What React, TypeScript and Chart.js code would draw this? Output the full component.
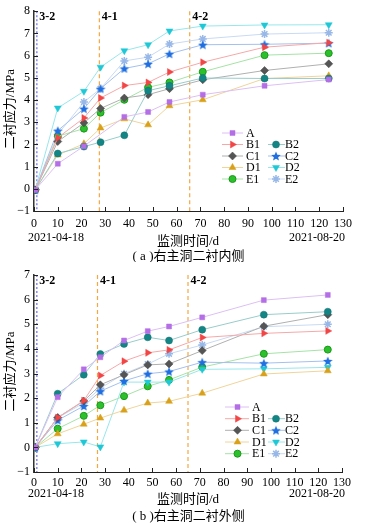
import React, { useEffect, useRef } from 'react';
import { Chart, registerables } from 'chart.js';
import { drawPoint } from 'chart.js/helpers';

Chart.register(...registerables);

// ---------- data ----------
const days = [0.5, 10, 21, 28, 38, 48, 57, 71, 97, 124];
const seriesLabels = ['A', 'B1', 'B2', 'C1', 'C2', 'D1', 'D2', 'E1', 'E2'];

// (a) inner side
const innerA = [-0.05, 1.13, 1.92, null, 3.24, 3.46, 3.91, 4.24, 4.64, 4.92];
const innerB1 = [-0.05, 2.3, 3.19, 4.09, 4.65, 4.79, 5.26, 5.7, 6.38, 6.58];
const innerB2 = [-0.05, 1.59, 1.9, 2.1, 2.41, 4.42, 4.64, 4.99, 4.97, 4.97];
const innerC1 = [-0.05, 2.13, 2.97, 3.62, 4.09, 4.24, 4.51, 4.91, 5.33, 5.63];
const innerC2 = [-0.05, 2.62, 3.61, 4.51, 5.42, 5.63, 6.08, 6.49, 6.51, 6.56];
const innerD1 = [-0.05, 1.52, 2.03, 2.74, 3.15, 2.88, 3.74, 4.01, 4.97, 5.09];
const innerD2 = [-0.05, 3.64, 4.39, 5.48, 6.22, 6.49, 7.11, 7.33, 7.38, 7.39];
const innerE1 = [-0.05, 2.37, 2.71, 3.43, 4.01, 4.57, 4.79, 5.27, 6.02, 6.11];
const innerE2 = [-0.05, 2.45, 3.91, 4.51, 5.76, 5.93, 6.52, 6.75, 6.97, 7.03];

// (b) outer side
const outerA = [0, 2.04, 3.17, 3.66, 4.34, 4.72, 4.91, 5.28, 5.98, 6.19];
const outerB1 = [0, 1.21, 1.9, 2.92, 3.5, 3.84, 3.96, 4.46, 4.63, 4.73];
const outerB2 = [0, 2.18, 2.95, 3.79, 4.2, 4.47, 4.34, 4.78, 5.39, 5.51];
const outerC1 = [0, 1.21, 1.88, 2.54, 2.95, 3.35, 3.39, 3.93, 4.92, 5.39];
const outerC2 = [0, 1.1, 1.68, 2.28, 2.7, 2.99, 3.08, 3.46, 3.42, 3.51];
const outerD1 = [0, 0.55, 0.94, 1.19, 1.51, 1.8, 1.87, 2.2, 2.98, 3.11];
const outerD2 = [0, 0.15, 0.22, 0.02, 2.65, 2.65, 2.65, 3.17, 3.19, 3.25];
const outerE1 = [0, 0.76, 1.28, 1.71, 2.08, 2.48, 2.74, 3.26, 3.8, 3.97];
const outerE2 = [0, 1.2, 1.8, 2.4, 2.99, 3.38, 3.8, 4.16, 4.9, 5.0];

const innerSeries = [innerA, innerB1, innerB2, innerC1, innerC2, innerD1, innerD2, innerE1, innerE2];
const outerSeries = [outerA, outerB1, outerB2, outerC1, outerC2, outerD1, outerD2, outerE1, outerE2];

// construction stages (day of the vertical marker lines)
const stageLabels = ['3-2', '4-1', '4-2'];
const innerStageDays = [1.2, 27.5, 65.5];
const outerStageDays = [1.2, 26.8, 65];

const startDate = '2021-04-18';
const endDate = '2021-08-20';
const xTitle = '监测时间/d';
const yTitle = '二衬应力/MPa';
const innerCaption = '( a )右主洞二衬内侧';
const outerCaption = '( b )右主洞二衬外侧';

// ---------- styles ----------
type St = { color: string; line: string; border: string; style: any; rot: number; r: number; bw: number };
const styleMap: Record<string, St> = {
  A: { color: '#b46ee6', line: '#dcc0f4', border: '#b46ee6', style: 'rect', rot: 0, r: 3.5, bw: 0.5 },
  B1: { color: '#f24545', line: '#f6a8a8', border: '#f24545', style: 'triangle', rot: 90, r: 4, bw: 0.5 },
  B2: { color: '#138585', line: '#98cccc', border: '#0f7070', style: 'circle', rot: 0, r: 3.5, bw: 0.5 },
  C1: { color: '#555555', line: '#b0b0b0', border: '#444444', style: 'rectRot', rot: 0, r: 4, bw: 0.5 },
  C2: { color: '#1f6fe0', line: '#a4c0ee', border: '#1f6fe0', style: 'STAR', rot: 0, r: 4, bw: 0 },
  D1: { color: '#d9a11a', line: '#f0d49a', border: '#d9a11a', style: 'triangle', rot: 0, r: 4, bw: 0.5 },
  D2: { color: '#1ec8d6', line: '#98e6ec', border: '#1ec8d6', style: 'triangle', rot: 180, r: 4, bw: 0.5 },
  E1: { color: '#2cc02c', line: '#a6e2a6', border: '#179a17', style: 'circle', rot: 0, r: 3.5, bw: 1 },
  E2: { color: '#a8c4ec', line: '#c8daf4', border: '#98b8e8', style: 'star', rot: 0, r: 4, bw: 1.5 },
};

const legendRows: (string | null)[][] = [
  ['A', null],
  ['B1', 'B2'],
  ['C1', 'C2'],
  ['D1', 'D2'],
  ['E1', 'E2'],
];

const SERIF = '"Liberation Serif", "Times New Roman", "Noto Sans CJK SC", serif';
const CJK = '"Liberation Serif", "Noto Sans CJK SC", serif';

function makeStar(color: string, size: number) {
  const c = document.createElement('canvas');
  c.width = size;
  c.height = size;
  const ctx = c.getContext('2d')!;
  const cx = size / 2, cy = size / 2 + 0.5;
  const R = size / 2, r = R * 0.45;
  ctx.beginPath();
  for (let i = 0; i < 10; i++) {
    const rad = i % 2 === 0 ? R : r;
    const a = -Math.PI / 2 + (i * Math.PI) / 5;
    const x = cx + rad * Math.cos(a), y = cy + rad * Math.sin(a);
    if (i === 0) ctx.moveTo(x, y); else ctx.lineTo(x, y);
  }
  ctx.closePath();
  ctx.fillStyle = color;
  ctx.fill();
  return c;
}

type Cfg = {
  series: (number | null)[][];
  stageDays: number[];
  yMax: number;
  top: number;
  bottom: number; // chart area bottom
  right: number;
  xLabelPad: number;
  stageLabelY: number;
  legendY: number[];
  legendLeft: { x0: number; x1: number; m: number; t: number };
  legendRight: { x0: number; x1: number; m: number; t: number };
  dateY: number;
  titleY: number;
  captionY: number;
  caption: string;
};

const W = 366;
const H = 262;

const innerCfg: Cfg = {
  series: innerSeries,
  stageDays: innerStageDays,
  yMax: 8,
  top: 11,
  bottom: 211,
  right: 343,
  xLabelPad: 6,
  stageLabelY: 17,
  legendY: [133, 144.5, 156, 167.5, 179],
  legendLeft: { x0: 222, x1: 243, m: 232.5, t: 246 },
  legendRight: { x0: 268, x1: 285, m: 276, t: 285 },
  dateY: 238,
  titleY: 242,
  captionY: 256.5,
  caption: innerCaption,
};

const outerCfg: Cfg = {
  series: outerSeries,
  stageDays: outerStageDays,
  yMax: 7,
  top: 13,
  bottom: 210,
  right: 342,
  xLabelPad: 4,
  stageLabelY: 19,
  legendY: [145, 156.7, 168.3, 180, 191.7],
  legendLeft: { x0: 225, x1: 249, m: 237.5, t: 252 },
  legendRight: { x0: 268, x1: 285, m: 276, t: 285 },
  dateY: 231.5,
  titleY: 238,
  captionY: 255,
  caption: outerCaption,
};

function resolveStyle(s: St, star: HTMLCanvasElement) {
  return s.style === 'STAR' ? star : s.style;
}

function buildChart(canvas: HTMLCanvasElement, cfg: Cfg) {
  const star = makeStar(styleMap.C2.color, 10);

  const datasets = seriesLabels.map((name, k) => {
    const s = styleMap[name];
    return {
      label: name,
      data: days.map((d, i) => ({ x: d, y: cfg.series[k][i] })),
      borderColor: s.line,
      backgroundColor: s.color,
      pointBackgroundColor: s.color,
      pointBorderColor: s.border,
      pointBorderWidth: s.bw,
      pointStyle: resolveStyle(s, star),
      pointRotation: s.rot,
      pointRadius: s.r,
      borderWidth: 1,
      spanGaps: true,
      tension: 0,
    };
  });

  const decor = {
    id: 'decor',
    beforeDatasetsDraw(chart: any) {
      const { ctx, chartArea, scales } = chart;
      ctx.save();
      cfg.stageDays.forEach((d, i) => {
        const x = scales.x.getPixelForValue(d);
        ctx.beginPath();
        if (i === 0) {
          ctx.strokeStyle = '#6a6af2';
          ctx.setLineDash([2, 2]);
        } else {
          ctx.strokeStyle = '#f5a742';
          ctx.setLineDash([4, 3]);
        }
        ctx.lineWidth = 1.2;
        ctx.moveTo(x, chartArea.top);
        ctx.lineTo(x, chartArea.bottom);
        ctx.stroke();
      });
      ctx.restore();
    },
    afterDraw(chart: any) {
      const { ctx, chartArea, scales } = chart;
      ctx.save();
      // stage labels
      ctx.fillStyle = '#000';
      ctx.font = `bold 12px ${SERIF}`;
      ctx.textAlign = 'left';
      ctx.textBaseline = 'middle';
      cfg.stageDays.forEach((d, i) => {
        const x = scales.x.getPixelForValue(d);
        ctx.fillText(stageLabels[i], x + 2.5, cfg.stageLabelY);
      });

      // inward ticks
      ctx.strokeStyle = '#222';
      ctx.lineWidth = 1;
      ctx.setLineDash([]);
      scales.x.ticks.forEach((t: any) => {
        const x = Math.round(scales.x.getPixelForValue(t.value)) + 0.5;
        ctx.beginPath();
        ctx.moveTo(x, chartArea.bottom);
        ctx.lineTo(x, chartArea.bottom - 4);
        ctx.stroke();
      });
      scales.y.ticks.forEach((t: any) => {
        const y = Math.round(scales.y.getPixelForValue(t.value)) + 0.5;
        ctx.beginPath();
        ctx.moveTo(chartArea.left, y);
        ctx.lineTo(chartArea.left + 4, y);
        ctx.stroke();
      });

      // dates
      ctx.fillStyle = '#000';
      ctx.font = `12px ${SERIF}`;
      ctx.textBaseline = 'middle';
      ctx.textAlign = 'left';
      ctx.fillText(startDate, 28, cfg.dateY);
      ctx.textAlign = 'right';
      ctx.fillText(endDate, 345, cfg.dateY);

      // x title
      ctx.textAlign = 'center';
      ctx.font = `13px ${CJK}`;
      ctx.fillText(xTitle, 188, cfg.titleY);

      // caption
      ctx.fillText(cfg.caption, 188.5, cfg.captionY);

      // y title
      ctx.save();
      ctx.translate(11, (chartArea.top + chartArea.bottom) / 2 - 2);
      ctx.rotate(-Math.PI / 2);
      ctx.textAlign = 'center';
      ctx.textBaseline = 'middle';
      ctx.font = `13px ${CJK}`;
      ctx.fillText(yTitle, 0, 0);
      ctx.restore();

      // legend
      legendRows.forEach((row, r) => {
        const y = cfg.legendY[r];
        row.forEach((name, c) => {
          if (!name) return;
          const pos = c === 0 ? cfg.legendLeft : cfg.legendRight;
          const s = styleMap[name];
          ctx.beginPath();
          ctx.strokeStyle = s.line;
          ctx.lineWidth = 1;
          ctx.moveTo(pos.x0, y);
          ctx.lineTo(pos.x1, y);
          ctx.stroke();
          ctx.fillStyle = s.color;
          ctx.strokeStyle = s.border;
          ctx.lineWidth = s.bw;
          drawPoint(ctx, { pointStyle: resolveStyle(s, star), radius: s.r, rotation: s.rot, borderWidth: s.bw } as any, pos.m, y);
          ctx.fillStyle = '#000';
          ctx.font = `12px ${SERIF}`;
          ctx.textAlign = 'left';
          ctx.textBaseline = 'middle';
          ctx.fillText(name, pos.t, y + 0.5);
        });
      });
      ctx.restore();
    },
  };

  const tickFont = { family: SERIF, size: 12 };

  return new Chart(canvas, {
    type: 'line',
    data: { datasets } as any,
    options: {
      animation: false,
      responsive: false,
      maintainAspectRatio: false,
      layout: { padding: { left: 0, right: W - cfg.right, top: cfg.top, bottom: 0 } },
      scales: {
        x: {
          type: 'linear',
          min: 0,
          max: 130,
          ticks: { stepSize: 10, font: tickFont, color: '#000', padding: cfg.xLabelPad, maxRotation: 0, autoSkip: false },
          grid: { display: false, drawTicks: false },
          border: { display: true, color: '#222', width: 1 },
          afterFit: (s: any) => { s.height = H - cfg.bottom; },
        },
        y: {
          type: 'linear',
          min: -1,
          max: cfg.yMax,
          ticks: {
            stepSize: 1,
            font: tickFont,
            color: '#000',
            padding: 4,
            callback: (v: any) => String(v).replace('-', '\u2212'),
          },
          grid: { display: false, drawTicks: false },
          border: { display: true, color: '#333', width: 1.5 },
          afterFit: (s: any) => { s.width = 34; },
        },
      },
      plugins: { legend: { display: false }, tooltip: { enabled: false } },
    } as any,
    plugins: [decor],
  });
}

function Panel({ cfg }: { cfg: Cfg }) {
  const ref = useRef<HTMLCanvasElement>(null);
  useEffect(() => {
    if (!ref.current) return;
    const ch = buildChart(ref.current, cfg);
    return () => ch.destroy();
  }, [cfg]);
  return <canvas ref={ref} width={W} height={H} style={{ display: 'block', width: W, height: H }} />;
}

export default function App() {
  return (
    <div style={{ position: 'absolute', left: 0, top: 0, width: W, height: 2 * H, background: '#fff' }}>
      <Panel cfg={innerCfg} />
      <Panel cfg={outerCfg} />
    </div>
  );
}
